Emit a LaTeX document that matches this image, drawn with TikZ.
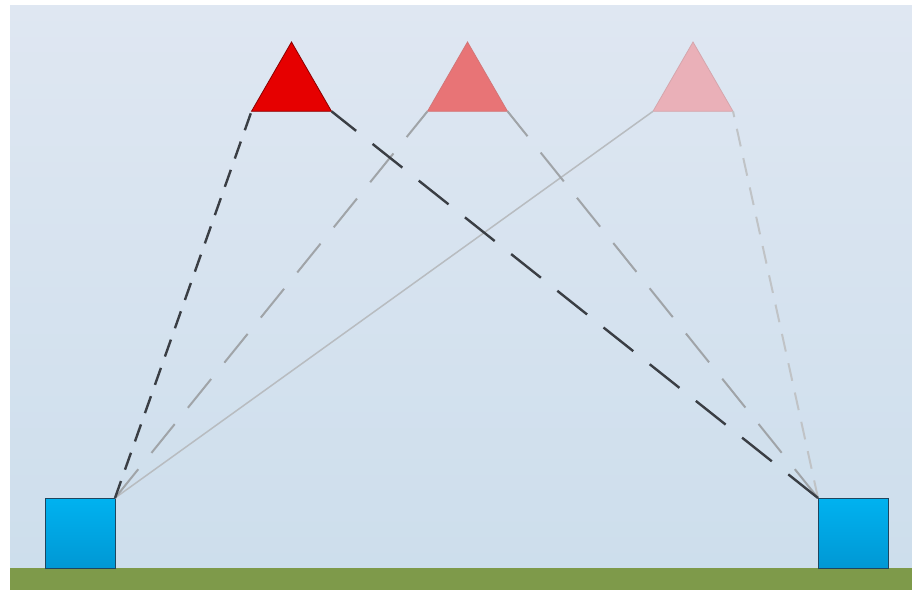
\documentclass[tikz,border=0pt]{standalone}
\usetikzlibrary{shapes.geometric}
\definecolor{bgtop}{RGB}{223,231,242}
\definecolor{bgbot}{RGB}{205,222,236}
\definecolor{ground}{RGB}{126,154,74}
\definecolor{sqtop}{RGB}{0,178,240}
\definecolor{sqbot}{RGB}{0,152,212}
\definecolor{sqedge}{RGB}{30,70,95}
\definecolor{darkline}{RGB}{58,62,68}
\definecolor{midline}{RGB}{160,164,168}
\definecolor{lightline}{RGB}{192,195,198}
\definecolor{solidline}{RGB}{184,188,192}
\definecolor{triA}{RGB}{230,0,0}
\definecolor{triB}{RGB}{232,116,118}
\definecolor{triC}{RGB}{234,176,184}
\tikzset{
  tri/.style={regular polygon, regular polygon sides=3, minimum size=92.4pt, inner sep=0pt, outer sep=0pt},
  sq/.style={rectangle, minimum size=70pt, inner sep=0pt, outer sep=0pt, draw=sqedge, line width=1pt, top color=sqtop, bottom color=sqbot},
  darkdash/.style={draw=darkline, line width=2.4pt, dash pattern=on 18pt off 12pt},
  darklong/.style={draw=darkline, line width=2.4pt, dash pattern=on 38pt off 21pt},
  middash/.style={draw=midline, line width=2pt, dash pattern=on 37pt off 21pt},
  lightdash/.style={draw=lightline, line width=2pt, dash pattern=on 18pt off 12pt},
  solidlink/.style={draw=solidline, line width=1.5pt}
}
\begin{document}
\begin{tikzpicture}[x=1pt,y=-1pt]
\useasboundingbox (0,0) rectangle (912,590);
\fill[white] (0,0) rectangle (912,590);
\shade[top color=bgtop, bottom color=bgbot] (10,5) rectangle (912,568);
\fill[ground] (10,568) rectangle (912,590);
% triangles
\node[tri, fill=triA, draw=triA!60!black, line width=0.8pt] (t1) at (291.5,88.2) {};
\node[tri, fill=triB, draw=triB!80!gray, line width=0.8pt] (t2) at (467.5,88.2) {};
\node[tri, fill=triC, draw=triC!80!gray, line width=0.8pt] (t3) at (693,88.2) {};
% squares
\node[sq] (L) at (80,533) {};
\node[sq] (R) at (853,533) {};
% connectors
\draw[solidlink] (L.north east) -- (t3.corner 2);
\draw[middash] (L.north east) -- (t2.corner 2);
\draw[darkdash] (L.north east) -- (t1.corner 2);
\draw[lightdash] (R.north west) -- (t3.corner 3);
\draw[middash] (R.north west) -- (t2.corner 3);
\draw[darklong] (R.north west) -- (t1.corner 3);
\end{tikzpicture}
\end{document}
